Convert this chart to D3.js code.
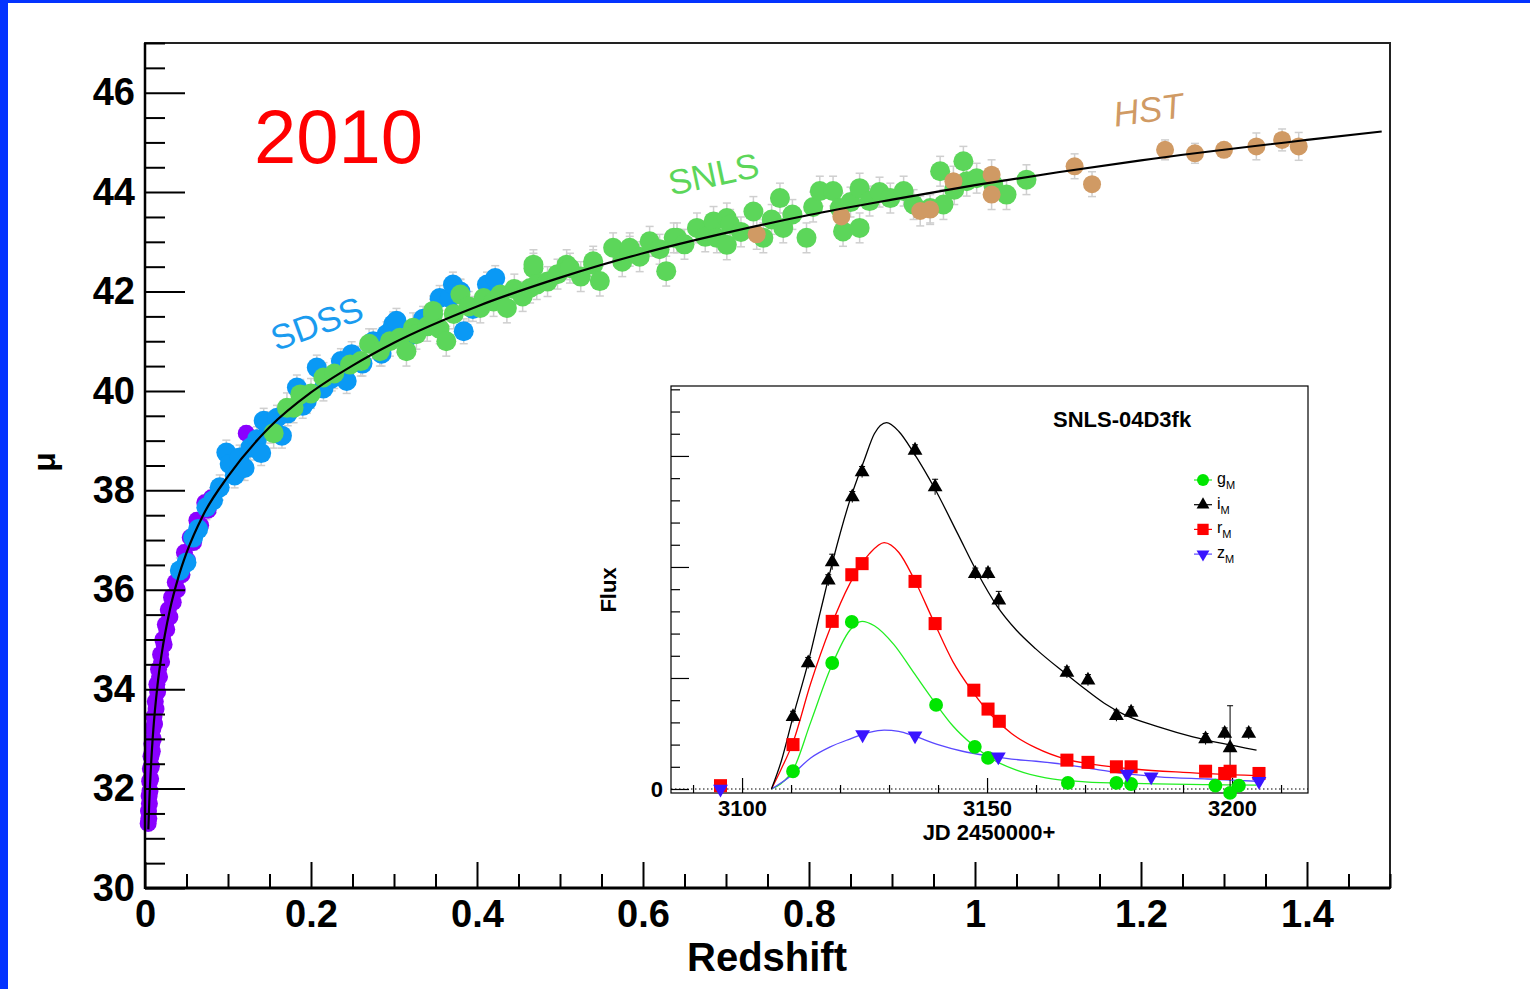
<!DOCTYPE html>
<html>
<head>
<meta charset="utf-8">
<script src="https://cdn.jsdelivr.net/npm/d3@7"></script>
<style>
  body { margin: 0; background: #fff; }
  svg text { font-family: "Liberation Sans", Arial, Helvetica, sans-serif; }
</style>
</head>
<body>
<svg id="chart" width="1530" height="989"></svg>
<script>
// ---------------- Hubble diagram data (redshift, distance modulus) ----------------
const lowzZ  = [0.0038, 0.0042, 0.0046, 0.0050, 0.0053, 0.0056, 0.0060, 0.0064, 0.0068, 0.0072, 0.0077, 0.0082,
                0.0088, 0.0094, 0.0100, 0.0108, 0.0115, 0.0124, 0.0133, 0.0143, 0.0152, 0.0163, 0.0175, 0.0188,
                0.0200, 0.0215, 0.0230, 0.0245, 0.0262, 0.0280, 0.0300, 0.0320, 0.0340, 0.0365, 0.0390, 0.0415,
                0.0445, 0.0475, 0.0510, 0.0545, 0.0585, 0.0625, 0.0670, 0.0720, 0.0760, 0.0800, 0.1220];
const lowzMu = [31.30, 31.55, 31.40, 31.85, 31.70, 32.15, 31.95, 32.40, 32.20, 32.65, 32.45, 32.90,
                32.75, 33.20, 33.00, 33.45, 33.30, 33.75, 33.60, 34.10, 33.95, 34.40, 34.25, 34.70,
                34.55, 35.00, 34.90, 35.30, 35.20, 35.60, 35.45, 35.85, 35.75, 36.15, 36.00, 36.40,
                36.30, 36.75, 36.60, 37.05, 36.95, 37.40, 37.30, 37.75, 37.60, 37.85, 39.15];

const sdssZ  = [0.042, 0.050, 0.058, 0.064, 0.074, 0.082, 0.090, 0.098, 0.102, 0.108, 0.114, 0.120, 0.127,
                0.135, 0.140, 0.143, 0.147, 0.151, 0.159, 0.165, 0.172, 0.183, 0.190, 0.195, 0.207, 0.215,
                0.225, 0.236, 0.243, 0.249, 0.262, 0.275, 0.285, 0.291, 0.299, 0.303, 0.318, 0.335, 0.355,
                0.367, 0.371, 0.380, 0.384, 0.395, 0.412, 0.422];
const sdssMu = [36.39, 36.55, 37.05, 37.22, 37.66, 37.80, 38.06, 38.76, 38.53, 38.30, 38.66, 38.45, 38.86,
                39.03, 38.75, 39.40, 39.33, 39.20, 39.46, 39.10, 39.55, 40.07, 39.70, 39.80, 40.47, 40.05,
                40.25, 40.60, 40.20, 40.74, 40.55, 41.00, 40.75, 41.14, 41.34, 41.41, 41.10, 41.45, 41.87,
                41.87, 42.14, 42.00, 41.20, 41.65, 42.14, 42.27];

const snlsZ  = [0.155, 0.171, 0.179, 0.187, 0.200, 0.215, 0.228, 0.247, 0.260, 0.270, 0.283, 0.295, 0.307,
                0.315, 0.323, 0.327, 0.340, 0.347, 0.347, 0.355, 0.363, 0.372, 0.380, 0.390, 0.404, 0.408,
                0.420, 0.428, 0.436, 0.445, 0.455, 0.464, 0.468, 0.468, 0.472, 0.485, 0.497, 0.508, 0.512,
                0.525, 0.540, 0.540, 0.548, 0.564, 0.575, 0.584, 0.584, 0.596, 0.608, 0.620, 0.628, 0.637,
                0.641, 0.650, 0.665, 0.675, 0.685, 0.689, 0.701, 0.701, 0.705, 0.718, 0.733, 0.745, 0.755,
                0.765, 0.769, 0.780, 0.797, 0.805, 0.813, 0.829, 0.837, 0.841, 0.850, 0.861, 0.861, 0.873,
                0.885, 0.898, 0.914, 0.926, 0.946, 0.958, 0.962, 0.975, 0.986, 0.990, 1.002, 1.022, 1.038,
                1.062];
const snlsMu = [39.15, 39.66, 39.66, 39.93, 39.95, 40.27, 40.35, 40.53, 40.60, 40.95, 40.80, 41.00, 41.07,
                40.80, 41.27, 41.14, 41.30, 41.54, 41.61, 41.25, 41.00, 41.55, 41.94, 41.70, 41.67, 41.87,
                41.80, 41.94, 41.67, 42.05, 41.90, 42.07, 42.47, 42.54, 42.14, 42.20, 42.35, 42.54, 42.47,
                42.30, 42.54, 42.61, 42.21, 42.88, 42.60, 42.81, 42.88, 42.70, 43.01, 42.85, 42.41, 43.08,
                43.08, 42.95, 43.28, 43.10, 43.41, 43.08, 43.48, 42.94, 43.35, 43.20, 43.61, 43.08, 43.45,
                43.88, 43.28, 43.55, 43.08, 43.70, 44.02, 44.02, 43.68, 43.21, 43.80, 44.08, 43.28, 43.82,
                44.00, 43.88, 44.02, 43.75, 43.68, 44.42, 43.75, 44.05, 44.62, 44.22, 44.28, 44.15, 43.95,
                44.25];

const hstZ   = [0.737, 0.839, 0.934, 0.946, 0.974, 1.020, 1.020, 1.120, 1.141, 1.229, 1.265, 1.300, 1.339, 1.370, 1.390];
const hstMu  = [43.15, 43.51, 43.62, 43.65, 44.22, 44.35, 43.95, 44.52, 44.16, 44.85, 44.78, 44.85, 44.92, 45.05, 44.92];
const hstErr = [0.30, 0.30, 0.30, 0.30, 0.30, 0.30, 0.30, 0.25, 0.25, 0.20, 0.20, 0.15, 0.27, 0.22, 0.28];

// typical uncertainty of each sample
const lowzErr = 0.15, sdssErr = 0.25, snlsErr = 0.30;

// best-fit cosmology line
const fitZ  = [0.004, 0.005, 0.0075, 0.01, 0.015, 0.02, 0.03, 0.04, 0.05, 0.07, 0.1, 0.15, 0.2, 0.25, 0.3,
               0.4, 0.5, 0.6, 0.7, 0.8, 0.9, 1.0, 1.1, 1.2, 1.4, 1.49];
const fitMu = [31.18, 31.66, 32.54, 33.18, 34.07, 34.70, 35.60, 36.24, 36.74, 37.50, 38.28, 39.27, 39.97, 40.51,
               40.97, 41.70, 42.28, 42.77, 43.18, 43.54, 43.85, 44.14, 44.40, 44.64, 45.05, 45.22];

const yTicks = [30, 32, 34, 36, 38, 40, 42, 44, 46];
const xTicks = [0, 0.2, 0.4, 0.6, 0.8, 1.0, 1.2, 1.4];

// ---------------- inset light curve of SNLS-04D3fk ----------------
const gJd   = [3110.4, 3118.4, 3122.4, 3139.6, 3147.5, 3150.2, 3166.5, 3176.4, 3179.4, 3196.6, 3199.6, 3201.4];
const gFlux = [0.16, 1.135, 1.505, 0.757, 0.38, 0.28, 0.055, 0.055, 0.045, 0.03, -0.035, 0.03];

const iJd   = [3110.4, 3113.5, 3117.6, 3118.4, 3122.5, 3124.5, 3135.3, 3139.4, 3147.6, 3150.2, 3152.4, 3166.3,
               3170.6, 3176.4, 3179.4, 3194.6, 3198.5, 3199.6, 3203.4];
const iFlux = [0.65, 1.135, 1.88, 2.045, 2.63, 2.855, 3.05, 2.72, 1.94, 1.94, 1.70, 1.05, 0.98, 0.66, 0.69,
               0.45, 0.50, 0.37, 0.50];
const iErr  = [0.05, 0.05, 0.05, 0.07, 0.05, 0.05, 0.05, 0.07, 0.05, 0.05, 0.08, 0.05, 0.05, 0.05, 0.05,
               0.05, 0.05, 0.38, 0.05];

const rJd   = [3095.6, 3110.4, 3118.4, 3122.4, 3124.5, 3135.3, 3139.4, 3147.3, 3150.2, 3152.5, 3166.3, 3170.6,
               3176.4, 3179.4, 3194.6, 3198.5, 3199.6, 3205.5];
const rFlux = [0.03, 0.40, 1.51, 1.93, 2.03, 1.87, 1.49, 0.89, 0.72, 0.61, 0.26, 0.24, 0.20, 0.20, 0.16, 0.14, 0.16, 0.14];

const zJd   = [3095.6, 3124.6, 3135.3, 3152.3, 3178.6, 3183.5, 3205.5];
const zFlux = [0.0, 0.49, 0.48, 0.29, 0.135, 0.11, 0.07];

const iFitJd   = [3106, 3108, 3110.4, 3113.5, 3116, 3118.5, 3122, 3125, 3127, 3129.5, 3132, 3135, 3139.4, 3144,
                  3148, 3152, 3156, 3160, 3166, 3170, 3174, 3178, 3185, 3192, 3198, 3205];
const iFitFlux = [0, 0.25, 0.65, 1.14, 1.6, 2.05, 2.6, 2.97, 3.2, 3.3, 3.22, 3.03, 2.7, 2.3,
                  1.95, 1.65, 1.43, 1.26, 1.04, 0.9, 0.77, 0.67, 0.56, 0.47, 0.41, 0.35];
const rFitJd   = [3106, 3108, 3110.4, 3114, 3118, 3122, 3126, 3129, 3132, 3135, 3139, 3143, 3147, 3151, 3155,
                  3160, 3166, 3172, 3180, 3190, 3205];
const rFitFlux = [0, 0.18, 0.42, 0.95, 1.45, 1.85, 2.12, 2.22, 2.13, 1.9, 1.52, 1.15, 0.88, 0.66, 0.5,
                  0.37, 0.27, 0.22, 0.18, 0.15, 0.12];
const gFitJd   = [3106, 3108, 3110.4, 3114, 3118, 3122, 3124.5, 3127, 3131, 3135, 3139.5, 3143, 3147, 3151,
                  3156, 3162, 3170, 3180, 3195, 3205];
const gFitFlux = [0, 0.05, 0.17, 0.6, 1.08, 1.43, 1.51, 1.47, 1.3, 1.05, 0.77, 0.57, 0.4, 0.27,
                  0.17, 0.1, 0.065, 0.05, 0.04, 0.035];
const zFitJd   = [3106, 3110, 3114, 3118, 3122, 3126, 3129, 3132, 3135, 3140, 3145, 3150, 3155, 3160, 3166,
                  3172, 3178, 3185, 3195, 3205];
const zFitFlux = [0, 0.12, 0.28, 0.38, 0.45, 0.51, 0.53, 0.52, 0.48, 0.4, 0.34, 0.3, 0.27, 0.25, 0.22,
                  0.18, 0.14, 0.11, 0.09, 0.07];

const bands = ["g", "i", "r", "z"];

///////////////////////////////////////////////////////////////////////////
//////////////////////////////// main plot ////////////////////////////////
///////////////////////////////////////////////////////////////////////////

const svg = d3.select("#chart");

// blue slide border
svg.append("rect").attr("x", 0).attr("y", 0).attr("width", 8).attr("height", 989).attr("fill", "#0433ff");
svg.append("rect").attr("x", 0).attr("y", 0).attr("width", 1530).attr("height", 3).attr("fill", "#0433ff");

const x = d3.scaleLinear().domain([0, 1.5]).range([145, 1390]);
const y = d3.scaleLinear().domain([30, 47]).range([888, 43]);

svg.append("rect")
  .attr("x", 145).attr("y", 43).attr("width", 1245).attr("height", 845)
  .attr("fill", "none").attr("stroke", "#222").attr("stroke-width", 2);

function pts(zs, mus) { return zs.map((z, i) => ({ z: z, mu: mus[i] })); }

const samples = [
  { data: pts(lowzZ, lowzMu), err: () => lowzErr, color: "#8a00ff", r: 8.5 },
  { data: pts(sdssZ, sdssMu), err: () => sdssErr, color: "#0a99f5", r: 10 },
  { data: pts(snlsZ, snlsMu), err: () => snlsErr, color: "#5cd65a", r: 10 },
  { data: pts(hstZ, hstMu), err: (d, i) => hstErr[i], color: "#d09a64", r: 9 }
];

// error bars first, markers on top
const errG = svg.append("g").attr("stroke", "#cfcfcf").attr("stroke-width", 1.5);
samples.forEach(s => {
  s.data.forEach((d, i) => {
    const e = s.err(d, i);
    const cx = x(d.z);
    errG.append("line").attr("x1", cx).attr("x2", cx).attr("y1", y(d.mu - e)).attr("y2", y(d.mu + e));
    [d.mu - e, d.mu + e].forEach(v => {
      errG.append("line").attr("x1", cx - 4).attr("x2", cx + 4).attr("y1", y(v)).attr("y2", y(v));
    });
  });
});

samples.forEach(s => {
  svg.append("g").selectAll("circle")
    .data(s.data)
    .enter().append("circle")
    .attr("cx", d => x(d.z))
    .attr("cy", d => y(d.mu))
    .attr("r", s.r)
    .attr("fill", s.color);
});

// fit line
svg.append("path")
  .datum(fitZ.map((z, i) => [z, fitMu[i]]))
  .attr("d", d3.line().x(d => x(d[0])).y(d => y(d[1])).curve(d3.curveMonotoneX))
  .attr("fill", "none").attr("stroke", "#000").attr("stroke-width", 2.2);

// axes
const yMinor = d3.range(30, 47.01, 0.5).filter(v => v % 2 !== 0);
const xMinor = d3.range(0, 1.501, 0.05).filter(v => Math.abs(v * 5 - Math.round(v * 5)) > 1e-6);

function styleAxis(g) {
  g.select(".domain").remove();
  g.selectAll("line").attr("stroke", "#000").attr("stroke-width", 2);
  g.selectAll("text").attr("font-size", 38).attr("font-weight", "bold").attr("fill", "#000")
    .attr("font-family", "Liberation Sans, Arial, sans-serif");
}

svg.append("g").attr("transform", "translate(145,0)")
  .call(d3.axisLeft(y).tickValues(yTicks).tickSize(-40).tickPadding(10).tickFormat(d3.format("d")))
  .call(styleAxis);
svg.append("g").attr("transform", "translate(145,0)")
  .call(d3.axisLeft(y).tickValues(yMinor).tickSize(-20).tickFormat(""))
  .call(styleAxis);

svg.append("g").attr("transform", "translate(0,888)")
  .call(d3.axisBottom(x).tickValues(xTicks).tickSize(-26).tickPadding(12).tickFormat(d3.format("~g")))
  .call(styleAxis);
svg.append("g").attr("transform", "translate(0,888)")
  .call(d3.axisBottom(x).tickValues(xMinor).tickSize(-14).tickFormat(""))
  .call(styleAxis);

svg.append("line").attr("x1", 145).attr("x2", 1390).attr("y1", 888).attr("y2", 888)
  .attr("stroke", "#000").attr("stroke-width", 3);
svg.append("line").attr("x1", 145).attr("x2", 145).attr("y1", 43).attr("y2", 889)
  .attr("stroke", "#000").attr("stroke-width", 2.5);

// titles and labels
svg.append("text").attr("x", 767).attr("y", 971).attr("text-anchor", "middle")
  .attr("font-size", 40).attr("font-weight", "bold").text("Redshift");
svg.append("text").attr("transform", "translate(55,462) rotate(-90)").attr("text-anchor", "middle")
  .attr("font-size", 32).attr("font-weight", "bold").text("μ");

svg.append("text").attr("x", 254).attr("y", 163).attr("font-size", 76).attr("fill", "#ff0000").text("2010");

svg.append("text").attr("transform", "translate(321,335) rotate(-20)").attr("text-anchor", "middle")
  .attr("font-size", 35).attr("fill", "#1a9bef").text("SDSS");
svg.append("text").attr("transform", "translate(716,186) rotate(-12)").attr("text-anchor", "middle")
  .attr("font-size", 35).attr("fill", "#5cd65a").text("SNLS");
svg.append("text").attr("transform", "translate(1150,122) rotate(-8)").attr("text-anchor", "middle")
  .attr("font-size", 35).attr("font-style", "italic").attr("fill", "#d09a64").text("HST");

///////////////////////////////////////////////////////////////////////////
////////////////////////////// inset light curve //////////////////////////
///////////////////////////////////////////////////////////////////////////

const ix = d3.scaleLinear().domain([3085.5, 3215.5]).range([671, 1308]);
const iy = d3.scaleLinear().domain([-0.036, 3.63]).range([793, 386]);

const inset = svg.append("g");
inset.append("rect").attr("x", 671).attr("y", 386).attr("width", 637).attr("height", 407)
  .attr("fill", "#fff").attr("stroke", "#000").attr("stroke-width", 1.2);

// zero line
inset.append("line").attr("x1", 671).attr("x2", 1308).attr("y1", iy(0)).attr("y2", iy(0))
  .attr("stroke", "#000").attr("stroke-width", 1).attr("stroke-dasharray", "1.5,2.5");

function styleInset(g, fs) {
  g.select(".domain").remove();
  g.selectAll("line").attr("stroke", "#000").attr("stroke-width", 1.2);
  g.selectAll("text").attr("font-size", fs).attr("font-weight", "bold").attr("fill", "#000")
    .attr("font-family", "Liberation Sans, Arial, sans-serif");
}

inset.append("g").attr("transform", "translate(671,0)")
  .call(d3.axisLeft(iy).tickValues(d3.range(0, 3.61, 0.2).filter(v => Math.abs(v - Math.round(v)) > 1e-6))
    .tickSize(-9).tickFormat(""))
  .call(styleInset, 22);
inset.append("g").attr("transform", "translate(671,0)")
  .call(d3.axisLeft(iy).tickValues([0, 1, 2, 3]).tickSize(-18).tickPadding(8)
    .tickFormat(d => d === 0 ? "0" : ""))
  .call(styleInset, 22);

inset.append("g").attr("transform", "translate(0,793)")
  .call(d3.axisBottom(ix).tickValues(d3.range(3090, 3211, 10).filter(v => v % 50 !== 0))
    .tickSize(-8).tickFormat(""))
  .call(styleInset, 22);
inset.append("g").attr("transform", "translate(0,793)")
  .call(d3.axisBottom(ix).tickValues([3100, 3150, 3200]).tickSize(-15).tickPadding(7).tickFormat(d3.format("d")))
  .call(styleInset, 22);

inset.append("text").attr("x", 989).attr("y", 840).attr("text-anchor", "middle")
  .attr("font-size", 22).attr("font-weight", "bold").text("JD 2450000+");
inset.append("text").attr("transform", "translate(616,590) rotate(-90)").attr("text-anchor", "middle")
  .attr("font-size", 22).attr("font-weight", "bold").text("Flux");
inset.append("text").attr("x", 1053).attr("y", 427)
  .attr("font-size", 22).attr("font-weight", "bold").text("SNLS-04D3fk");

const lc = {
  g: { jd: gJd, flux: gFlux, fitJd: gFitJd, fitFlux: gFitFlux, color: "#00e600", line: "#22ee22",
       sym: d3.symbolCircle, size: 150, rot: 0 },
  i: { jd: iJd, flux: iFlux, fitJd: iFitJd, fitFlux: iFitFlux, color: "#000", line: "#000",
       sym: d3.symbolTriangle, size: 95, rot: 0 },
  r: { jd: rJd, flux: rFlux, fitJd: rFitJd, fitFlux: rFitFlux, color: "#ff0000", line: "#ff0000",
       sym: d3.symbolSquare, size: 170, rot: 0 },
  z: { jd: zJd, flux: zFlux, fitJd: zFitJd, fitFlux: zFitFlux, color: "#3a14ff", line: "#5a48ff",
       sym: d3.symbolTriangle, size: 95, rot: 180 }
};

const lcLine = d3.line().x(d => ix(d[0])).y(d => iy(d[1])).curve(d3.curveMonotoneX);

["g", "r", "z", "i"].forEach(b => {
  const s = lc[b];
  inset.append("path")
    .datum(s.fitJd.map((t, k) => [t, s.fitFlux[k]]))
    .attr("d", lcLine)
    .attr("fill", "none").attr("stroke", s.line).attr("stroke-width", 1.3);
});

// i-band error bars
iJd.forEach((t, k) => {
  const cx = ix(t);
  inset.append("line").attr("x1", cx).attr("x2", cx)
    .attr("y1", iy(iFlux[k] - iErr[k])).attr("y2", iy(iFlux[k] + iErr[k]))
    .attr("stroke", "#000").attr("stroke-width", 1);
  inset.append("line").attr("x1", cx - 3).attr("x2", cx + 3)
    .attr("y1", iy(iFlux[k] + iErr[k])).attr("y2", iy(iFlux[k] + iErr[k]))
    .attr("stroke", "#000").attr("stroke-width", 1);
});

["g", "r", "z", "i"].forEach(b => {
  const s = lc[b];
  inset.append("g").selectAll("path")
    .data(s.jd.map((t, k) => [t, s.flux[k]]))
    .enter().append("path")
    .attr("d", d3.symbol().type(s.sym).size(s.size))
    .attr("transform", d => "translate(" + ix(d[0]) + "," + iy(d[1]) + ") rotate(" + s.rot + ")")
    .attr("fill", s.color);
});

// legend
const leg = inset.append("g").attr("transform", "translate(1203,480)");
bands.forEach((b, k) => {
  const s = lc[b];
  const row = leg.append("g").attr("transform", "translate(0," + (k * 24.7) + ")");
  row.append("line").attr("x1", -9).attr("x2", 9).attr("stroke", s.line).attr("stroke-width", 1.2);
  row.append("path").attr("d", d3.symbol().type(s.sym).size(s.size * 0.75))
    .attr("transform", "rotate(" + s.rot + ")").attr("fill", s.color);
  const t = row.append("text").attr("x", 14).attr("y", 4).attr("font-size", 16);
  t.append("tspan").text(b);
  t.append("tspan").attr("dy", 5).attr("font-size", 11).text("M");
});
</script>
</body>
</html>
